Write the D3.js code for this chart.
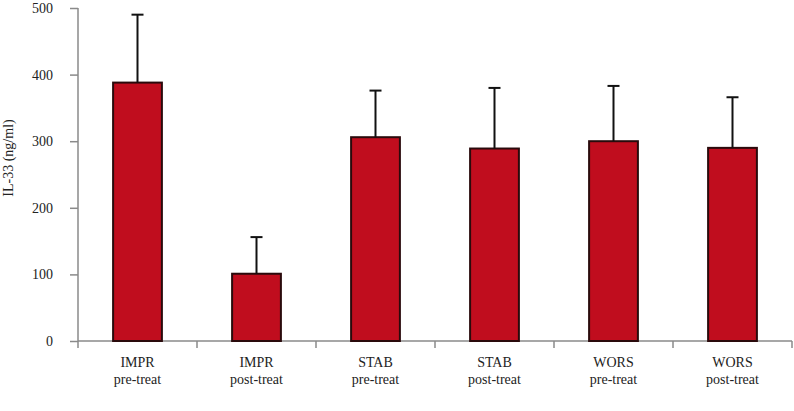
<!DOCTYPE html>
<html>
<head>
<meta charset="utf-8">
<script src="https://cdn.jsdelivr.net/npm/d3@7"></script>
<style>
  body { margin: 0; background: #fff; }
  svg text { font-family: "Liberation Serif", "DejaVu Serif", serif; fill: #222; }
</style>
</head>
<body>
<svg id="grafico"></svg>
<script>
// dados
let grupos = ["IMPR", "IMPR", "STAB", "STAB", "WORS", "WORS"];
let fases = ["pre-treat", "post-treat", "pre-treat", "post-treat", "pre-treat", "post-treat"];
let medias = [388, 101, 306, 289, 300, 290];
let erros = [102, 55, 70, 91, 83, 76];
let ticksY = [0, 100, 200, 300, 400, 500];

let width = 794, height = 411;
let margem = {top: 8, right: 2, bottom: 70, left: 78};

let svg = d3.select("#grafico")
    .attr("width", width)
    .attr("height", height);

let x = d3.scaleBand()
    .domain(d3.range(medias.length))
    .range([margem.left, width - margem.right])
    .paddingInner(0.59)
    .paddingOuter(0.295);

let y = d3.scaleLinear()
    .domain([0, 500])
    .range([height - margem.bottom, margem.top]);

let cinza = "#8a8a8a";

// eixo y
let eixoY = svg.append("g")
    .attr("transform", "translate(" + margem.left + ",0)")
    .call(d3.axisLeft(y).tickValues(ticksY).tickSize(8).tickPadding(17));
eixoY.select(".domain").remove();
eixoY.selectAll("line").attr("stroke", cinza).attr("stroke-width", 1.5);
eixoY.selectAll("text").style("font-size", "14px").attr("fill", "#222");
svg.append("line")
    .attr("x1", margem.left).attr("x2", margem.left)
    .attr("y1", y(500)).attr("y2", y(0) + 7)
    .attr("stroke", cinza).attr("stroke-width", 1.5);

// eixo x
let passo = x.step();
let limites = d3.range(medias.length + 1).map(i => margem.left + i * passo);
svg.append("line")
    .attr("x1", margem.left).attr("x2", limites[limites.length - 1])
    .attr("y1", y(0)).attr("y2", y(0))
    .attr("stroke", cinza).attr("stroke-width", 1.5);
svg.selectAll(".tickx")
    .data(limites.slice(1))
    .enter().append("line")
    .attr("x1", d => d).attr("x2", d => d)
    .attr("y1", y(0)).attr("y2", y(0) + 7)
    .attr("stroke", cinza).attr("stroke-width", 1.5);

// barras
svg.selectAll(".barra")
    .data(medias)
    .enter().append("rect")
    .attr("class", "barra")
    .attr("x", (d, i) => x(i))
    .attr("y", d => y(d))
    .attr("width", x.bandwidth())
    .attr("height", d => y(0) - y(d))
    .attr("fill", "#C00D1E")
    .attr("stroke", "#2a0a0c")
    .attr("stroke-width", 2);

// barras de erro (só para cima)
let erroG = svg.append("g").attr("stroke", "#111").attr("stroke-width", 2);
medias.forEach(function(m, i) {
    let cx = x(i) + x.bandwidth() / 2;
    erroG.append("line")
        .attr("x1", cx).attr("x2", cx)
        .attr("y1", y(m)).attr("y2", y(m + erros[i]));
    erroG.append("line")
        .attr("x1", cx - 6).attr("x2", cx + 6)
        .attr("y1", y(m + erros[i])).attr("y2", y(m + erros[i]));
});

// rótulos das categorias
let rotulos = svg.selectAll(".rotulo")
    .data(grupos)
    .enter().append("text")
    .attr("text-anchor", "middle")
    .style("font-size", "14px")
    .attr("x", (d, i) => x(i) + x.bandwidth() / 2);
rotulos.append("tspan").attr("y", 367).text(d => d);
rotulos.append("tspan")
    .attr("x", (d, i) => x(i) + x.bandwidth() / 2)
    .attr("y", 384)
    .text((d, i) => fases[i]);

// título do eixo y
svg.append("text")
    .attr("transform", "translate(13,158) rotate(-90)")
    .attr("text-anchor", "middle")
    .style("font-size", "14px")
    .text("IL-33 (ng/ml)");
</script>
</body>
</html>
